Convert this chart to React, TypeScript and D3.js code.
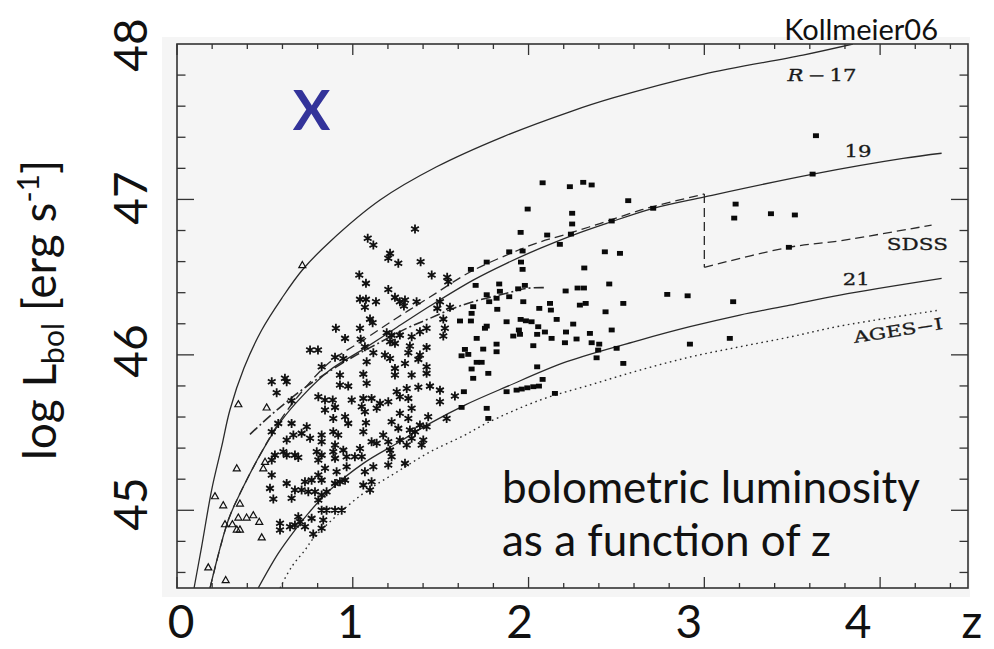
import React from 'react';
import * as d3 from 'd3';

const W = 994, H = 649;
const PL = 177, PR = 968, PT = 44, PB = 588;
const xDomain: [number, number] = [0, 4.5];
const yDomain: [number, number] = [44.5, 48];

const xTickLabels = [0, 1, 2, 3, 4];
const yTickLabels = [45, 46, 47, 48];

const curveR17: [number, number][] = [
  [0.097, 44.5], [0.140, 44.765], [0.197, 45.130], [0.254, 45.409], [0.301, 45.645], [0.381, 45.915],
  [0.482, 46.160], [0.596, 46.364], [0.713, 46.546], [0.870, 46.728], [1.155, 46.996], [1.477, 47.210],
  [1.854, 47.403], [2.235, 47.564], [2.480, 47.653], [2.992, 47.805], [3.561, 47.929], [3.845, 48.0],
];
const curveR19: [number, number][] = [
  [0.188, 44.5], [0.292, 44.937], [0.368, 45.130], [0.482, 45.376], [0.596, 45.580], [0.709, 45.730],
  [0.870, 45.902], [1.060, 46.037], [1.250, 46.176], [1.439, 46.314], [1.685, 46.481], [1.875, 46.589],
  [2.065, 46.685], [2.254, 46.771], [2.444, 46.846], [2.709, 46.943], [3.003, 47.017], [3.619, 47.163],
  [4.131, 47.264], [4.350, 47.297],
];
const curveR21: [number, number][] = [
  [0.462, 44.5], [0.576, 44.723], [0.671, 44.873], [0.747, 44.980], [0.870, 45.130], [1.060, 45.302],
  [1.250, 45.430], [1.439, 45.559], [1.638, 45.677], [1.875, 45.795], [2.217, 45.956], [2.634, 46.095],
  [2.918, 46.181], [3.202, 46.256], [3.487, 46.320], [3.771, 46.385], [4.350, 46.492],
];
const curveAGES: [number, number][] = [
  [0.586, 44.5], [0.652, 44.636], [0.728, 44.744], [0.775, 44.819], [0.870, 44.926], [1.060, 45.109],
  [1.250, 45.246], [1.439, 45.375], [1.638, 45.484], [1.762, 45.561], [2.065, 45.709], [2.349, 45.806],
  [2.634, 45.902], [2.918, 45.986], [3.202, 46.052], [3.487, 46.115], [3.771, 46.185], [4.340, 46.288],
];
const sdssLow: [number, number][] = [
  [0.188, 44.5], [0.292, 44.937], [0.368, 45.130], [0.482, 45.376], [0.596, 45.593], [0.709, 45.761],
  [0.870, 45.954], [1.060, 46.095], [1.250, 46.237], [1.439, 46.372], [1.667, 46.533], [1.890, 46.649],
  [2.046, 46.719], [2.217, 46.777], [2.406, 46.845], [2.595, 46.916], [2.707, 46.954], [3.0, 47.035],
];
const sdssStep: [number, number][] = [[3.0, 47.035], [3.0, 46.563]];
const sdssHigh: [number, number][] = [[3.0, 46.563], [3.481, 46.692], [3.771, 46.734], [4.293, 46.835]];
const curveDashDot: [number, number][] = [
  [0.415, 45.488], [0.482, 45.559], [0.557, 45.634], [0.614, 45.688], [0.671, 45.741], [0.775, 45.827],
  [1.003, 45.988], [1.136, 46.069], [1.307, 46.171], [1.439, 46.235], [1.572, 46.299], [1.685, 46.342],
  [1.875, 46.396], [1.989, 46.428], [2.103, 46.432],
];

const squares: [number, number][] = [
  [2.080, 47.107], [2.235, 47.082], [2.311, 47.110], [2.359, 47.093], [2.567, 46.992], [1.995, 46.938],
  [2.248, 46.911], [2.248, 46.842], [1.955, 46.788], [2.106, 46.771], [2.241, 46.777], [2.178, 46.711],
  [2.473, 46.861], [1.890, 46.663], [1.966, 46.668], [1.957, 46.597], [1.966, 46.550], [1.762, 46.597],
  [1.672, 46.550], [2.434, 46.663], [2.520, 46.653], [2.317, 46.559], [2.459, 46.456], [1.699, 46.447],
  [1.833, 46.456], [1.979, 46.447], [1.837, 46.409], [1.762, 46.387], [2.211, 46.411], [2.279, 46.430],
  [2.315, 46.430], [1.941, 46.425], [1.890, 46.374], [1.818, 46.364], [1.776, 46.342], [1.970, 46.342],
  [1.685, 46.310], [2.061, 46.299], [2.122, 46.331], [2.127, 46.288], [2.292, 46.320], [2.325, 46.331],
  [2.539, 46.331], [1.822, 46.293], [1.676, 46.267], [2.438, 46.277], [1.610, 46.218], [1.672, 46.218],
  [1.875, 46.213], [1.955, 46.228], [1.985, 46.219], [2.017, 46.213], [2.160, 46.228], [1.762, 46.185],
  [1.752, 46.171], [2.055, 46.181], [2.254, 46.198], [2.473, 46.160], [1.945, 46.160], [2.093, 46.147],
  [2.213, 46.147], [2.349, 46.138], [1.913, 46.121], [1.951, 46.132], [2.049, 46.132], [1.705, 46.106],
  [2.131, 46.106], [2.273, 46.102], [2.207, 46.078], [2.359, 46.078], [2.402, 46.069], [2.027, 46.059],
  [1.818, 46.069], [1.638, 46.035], [1.742, 46.037], [1.818, 46.020], [2.396, 46.031], [2.501, 46.042],
  [1.619, 45.994], [1.657, 46.003], [2.387, 45.981], [1.705, 45.952], [1.733, 45.952], [2.539, 45.945],
  [1.676, 45.909], [2.049, 45.923], [1.771, 45.881], [1.685, 45.849], [2.080, 45.842], [1.632, 45.763],
  [1.875, 45.763], [1.932, 45.773], [1.961, 45.780], [1.993, 45.788], [2.027, 45.795], [2.059, 45.799],
  [2.150, 45.752], [1.619, 45.662], [1.762, 45.656], [1.771, 45.591],
  [3.635, 47.410], [3.616, 47.163], [3.178, 46.970], [3.170, 46.880], [3.379, 46.908], [3.515, 46.900],
  [2.709, 46.943], [3.481, 46.692], [2.789, 46.389], [2.905, 46.380], [3.164, 46.342], [2.918, 46.069],
  [3.145, 46.106],
];

const stars: [number, number][] = [
  [1.354, 46.810], [1.085, 46.750], [1.117, 46.707], [1.212, 46.653], [1.202, 46.621], [1.259, 46.589],
  [1.386, 46.599], [1.037, 46.514], [1.075, 46.460], [1.449, 46.514], [1.537, 46.499], [1.543, 46.470],
  [1.202, 46.421], [1.041, 46.357], [1.075, 46.357], [1.132, 46.342], [1.069, 46.306], [1.240, 46.370],
  [1.268, 46.342], [1.297, 46.353], [1.291, 46.314], [1.363, 46.342], [1.496, 46.342], [1.481, 46.299],
  [1.553, 46.306], [1.515, 46.230], [1.098, 46.230], [1.113, 46.207], [0.904, 46.171], [1.041, 46.171],
  [1.420, 46.171], [1.524, 46.171], [1.382, 46.149], [0.956, 46.106], [1.045, 46.100], [1.193, 46.142],
  [1.221, 46.127], [1.268, 46.127], [1.212, 46.084], [1.335, 46.116], [1.515, 46.121], [1.240, 46.074],
  [1.325, 46.057], [1.420, 46.048], [1.069, 46.052], [1.117, 46.014], [1.316, 46.014], [1.183, 45.999],
  [1.212, 45.977], [1.382, 45.999], [1.373, 45.971], [0.899, 45.984], [0.946, 45.977], [1.079, 45.956],
  [1.297, 45.945], [1.420, 45.923], [1.240, 45.913], [1.420, 45.881], [0.927, 45.870], [1.060, 45.876],
  [1.335, 45.870], [1.240, 45.870], [0.757, 46.031], [0.802, 46.031], [0.823, 45.923], [0.614, 45.849],
  [0.539, 45.827], [0.624, 45.827], [0.567, 45.756], [0.652, 45.705], [0.539, 45.505], [0.576, 45.559],
  [0.652, 45.559], [0.738, 45.537], [0.662, 45.484], [0.624, 45.452], [0.709, 45.495], [0.757, 45.463],
  [0.823, 45.484], [0.804, 45.730], [0.842, 45.709], [0.842, 45.645], [0.823, 45.441], [0.557, 45.355],
  [0.605, 45.376], [0.624, 45.355], [0.690, 45.340], [0.671, 45.355], [0.539, 45.323], [0.795, 45.376],
  [0.823, 45.355], [0.804, 45.323], [0.539, 45.227], [0.842, 45.270], [0.804, 45.227], [0.624, 45.173],
  [0.728, 45.183], [0.766, 45.194], [0.823, 45.194], [0.529, 45.141], [0.671, 45.130], [0.709, 45.130],
  [0.747, 45.119], [0.785, 45.119], [0.652, 45.077], [0.548, 45.072], [0.804, 45.066], [0.823, 45.098],
  [0.851, 45.119], [0.823, 45.001], [0.690, 44.958], [0.766, 44.948], [0.586, 44.916], [0.671, 44.905],
  [0.700, 44.926], [0.728, 44.894], [0.832, 44.937], [0.823, 44.884], [0.586, 44.873], [0.775, 44.847],
  [0.927, 45.806], [0.974, 45.799], [1.079, 45.817], [0.886, 45.709], [0.899, 45.662], [0.994, 45.709],
  [1.060, 45.720], [1.107, 45.720], [1.051, 45.666], [1.155, 45.688], [1.202, 45.698], [1.250, 45.763],
  [1.307, 45.784], [1.373, 45.791], [1.439, 45.799], [1.496, 45.773], [1.496, 45.698], [1.316, 45.720],
  [1.268, 45.730], [1.335, 45.656], [1.581, 45.735], [1.136, 45.656], [1.069, 45.634], [0.889, 45.591],
  [0.956, 45.602], [0.974, 45.559], [1.075, 45.563], [1.221, 45.570], [1.268, 45.624], [1.316, 45.591],
  [1.429, 45.602], [1.534, 45.591], [1.259, 45.527], [1.382, 45.548], [1.420, 45.537], [0.917, 45.484],
  [0.889, 45.505], [1.060, 45.505], [1.173, 45.484], [1.325, 45.516], [1.354, 45.505], [1.268, 45.452],
  [1.335, 45.463], [1.401, 45.452], [0.899, 45.420], [1.107, 45.441], [1.136, 45.431], [1.202, 45.441],
  [1.307, 45.420], [1.392, 45.420], [0.889, 45.376], [0.946, 45.387], [1.041, 45.398], [1.212, 45.387],
  [0.899, 45.334], [0.965, 45.344], [1.012, 45.344], [1.051, 45.344], [1.221, 45.344], [1.297, 45.302],
  [1.202, 45.291], [0.965, 45.280], [1.117, 45.280], [0.908, 45.248], [1.069, 45.248], [0.956, 45.194],
  [0.927, 45.183], [0.899, 45.173], [1.060, 45.162], [1.107, 45.183], [1.098, 45.130], [0.899, 45.001],
  [0.937, 45.001], [0.643, 44.894], [0.851, 45.001],
];

const triangles: [number, number][] = [
  [0.713, 46.578], [0.349, 45.683], [0.510, 45.662], [0.340, 45.270], [0.491, 45.270], [0.501, 45.312],
  [0.216, 45.091], [0.263, 45.033], [0.358, 45.044], [0.349, 44.954], [0.396, 44.954], [0.434, 44.969],
  [0.273, 44.911], [0.315, 44.911], [0.340, 44.877], [0.358, 44.877], [0.482, 44.826], [0.178, 44.633],
  [0.277, 44.551], [0.468, 44.926],
];

const curveLabels: { text: string; z: number; L: number; w: number; rot: number }[] = [
  { text: 'R\u2009\u2212\u200917', z: 3.669, L: 47.762, w: 69, rot: 0 },
  { text: '19', z: 3.874, L: 47.273, w: 27, rot: 0 },
  { text: 'SDSS', z: 4.212, L: 46.674, w: 61, rot: 0 },
  { text: '21', z: 3.865, L: 46.449, w: 27, rot: 0 },
  { text: 'AGES\u2212I', z: 4.107, L: 46.121, w: 90, rot: -9 },
];

const STAR_R = 4.5;
const starPath = (() => {
  const r = STAR_R;
  const a = r * Math.sin(Math.PI / 3), b = r * Math.cos(Math.PI / 3);
  return `M0,${-r}L0,${r}M${-a},${-b}L${a},${b}M${-a},${b}L${a},${-b}`;
})();

export default function App() {
  const x = d3.scaleLinear().domain(xDomain).range([PL, PR]);
  const y = d3.scaleLinear().domain(yDomain).range([PB, PT]);
  const xLab = d3.scaleLinear().domain([0, 4]).range([181, 858]);
  const yLab = d3.scaleLinear().domain([45, 48]).range([504, 45]);

  const smooth = d3.line<[number, number]>().x(d => x(d[0])).y(d => y(d[1])).curve(d3.curveCatmullRom.alpha(0.5));
  const straight = d3.line<[number, number]>().x(d => x(d[0])).y(d => y(d[1]));

  const xMinor = d3.range(0, 23).map(i => +(i * 0.2).toFixed(1)).filter(v => v <= 4.5);
  const yMinor = d3.range(0, 18).map(i => +(44.6 + i * 0.2).toFixed(1)).filter(v => v < 48);
  const isMajor = (v: number) => Math.abs(v - Math.round(v)) < 1e-6;

  const stroke = '#2a2a2a';
  const tri = (cx: number, cy: number) => {
    const s = 3.5;
    return `M${cx},${cy - s}L${cx + s},${cy + s * 0.75}L${cx - s},${cy + s * 0.75}Z`;
  };

  const bigFont = 'Lato, "Open Sans", sans-serif';

  return (
    <svg width={W} height={H} viewBox={`0 0 ${W} ${H}`}
      style={{ position: 'absolute', left: 0, top: 0, background: '#ffffff' }}>
      <defs>
        <clipPath id="plotClip">
          <rect x={PL} y={PT} width={PR - PL} height={PB - PT} />
        </clipPath>
      </defs>
      <rect x={162} y={37} width={808} height={560} fill="#f5f5f5" />

      <g stroke="#333" strokeWidth={1.3}>
        {xMinor.map(v => {
          const px = x(v);
          const Lt = isMajor(v) ? 11 : 5;
          return (
            <g key={'xt' + v}>
              <line x1={px} x2={px} y1={PT} y2={PT + Lt} />
              <line x1={px} x2={px} y1={PB} y2={PB - Lt} />
            </g>
          );
        })}
        {yMinor.map(v => {
          const py = y(v);
          const Lt = isMajor(v) ? 17 : 8.5;
          return (
            <g key={'yt' + v}>
              <line x1={PL} x2={PL + Lt} y1={py} y2={py} />
              <line x1={PR} x2={PR - Lt} y1={py} y2={py} />
            </g>
          );
        })}
      </g>

      <g clipPath="url(#plotClip)" fill="none" stroke={stroke} strokeWidth={1.3}>
        <path d={smooth(curveR17) || ''} />
        <path d={smooth(curveR19) || ''} />
        <path d={smooth(curveR21) || ''} />
        <path d={smooth(curveAGES) || ''} strokeDasharray="1.6,3.6" strokeWidth={1.4} />
        <path d={smooth(sdssLow) || ''} strokeDasharray="9,5" />
        <path d={straight(sdssStep) || ''} strokeDasharray="9,5" />
        <path d={smooth(sdssHigh) || ''} strokeDasharray="9,5" />
        <path d={smooth(curveDashDot) || ''} strokeDasharray="10,3,2,3" strokeWidth={1.6} />
      </g>

      <g clipPath="url(#plotClip)">
        {stars.map((d, i) => (
          <path key={'s' + i} d={starPath} transform={`translate(${x(d[0])},${y(d[1])})`}
            stroke="#111" strokeWidth={1.8} fill="none" />
        ))}
        {triangles.map((d, i) => (
          <path key={'t' + i} d={tri(x(d[0]), y(d[1]))} stroke="#111" strokeWidth={1.2} fill="none" />
        ))}
        {squares.map((d, i) => (
          <rect key={'q' + i} x={x(d[0]) - 3} y={y(d[1]) - 2.4} width={6} height={4.8} fill="#0a0a0a" />
        ))}
      </g>

      <rect x={PL} y={PT} width={PR - PL} height={PB - PT} fill="none" stroke="#333" strokeWidth={1.6} />

      {curveLabels.map((c, i) => {
        const px = x(c.z), py = y(c.L);
        return (
          <text key={'cl' + i} x={px} y={py} textAnchor="middle" fontFamily='"DejaVu Serif", serif'
            fontSize={16} fill="#1a1a1a" textLength={c.w} lengthAdjust="spacingAndGlyphs"
            stroke="#1a1a1a" strokeWidth={0.3}
            transform={c.rot ? `rotate(${c.rot},${px},${py})` : undefined}>
            {i === 0 ? (<><tspan fontStyle="italic">R</tspan>{'\u2009\u2212\u200917'}</>) : c.text}
          </text>
        );
      })}

      <text x={311.5} y={130} textAnchor="middle" fontFamily={bigFont} fontWeight={700}
        fontSize={56} fill="#33339a">X</text>
      <text x={938} y={40} textAnchor="end" fontFamily={bigFont} fontSize={29} fill="#111">Kollmeier06</text>
      <text x={502} y={503} fontFamily={bigFont} fontSize={44} fill="#111">bolometric luminosity</text>
      <text x={502} y={556} fontFamily={bigFont} fontSize={44} fill="#111">as a function of z</text>

      {xTickLabels.map(v => (
        <text key={'xl' + v} x={xLab(v)} y={638} textAnchor="middle" fontFamily={bigFont}
          fontSize={46} fill="#111">{v}</text>
      ))}
      <text x={972} y={638} textAnchor="middle" fontFamily={bigFont} fontSize={46} fill="#111">z</text>

      {yTickLabels.map(v => (
        <text key={'yl' + v} transform={`translate(147,${yLab(v)}) rotate(-90)`} textAnchor="middle"
          fontFamily={bigFont} fontSize={46} fill="#111">{v}</text>
      ))}

      <text transform="translate(56,310) rotate(-90)" textAnchor="middle" fontFamily={bigFont}
        fontSize={46} fill="#111">
        log L<tspan fontSize={30} dy={8}>bol</tspan>
        <tspan dy={-8}> [erg s</tspan>
        <tspan fontSize={30} dy={-17}>-1</tspan>
        <tspan dy={17}>]</tspan>
      </text>
    </svg>
  );
}
